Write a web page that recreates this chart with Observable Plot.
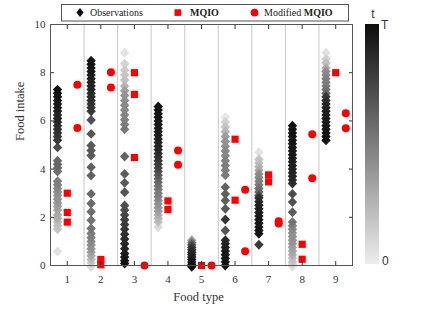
<!DOCTYPE html>
<html><head><meta charset="utf-8">
<script src="https://cdn.jsdelivr.net/npm/d3@7"></script>
<script src="https://cdn.jsdelivr.net/npm/@observablehq/plot@0.6"></script>
<style>
body{margin:0;background:#fff;}
#wrap{position:relative;width:443px;height:332px;overflow:hidden;background:#fff;}
#wrap svg{position:absolute;left:0;top:0;}
</style></head><body><div id="wrap"></div>
<script>
// ---- data ----
const foodTypes = [1, 2, 3, 4, 5, 6, 7, 8, 9];
const separators = [1.5, 2.5, 3.5, 4.5, 5.5, 6.5, 7.5, 8.5];
const yTicks = [0, 2, 4, 6, 8, 10];
const seriesNames = ["Observations", "MQIO", "Modified MQIO"];

// observations per food type: [food intake, t (0 = start, 1 = T)]
const obs1 = [[0.58,0.05],[1.5,0.18],[1.65,0.2],[1.8,0.22],[1.95,0.28],[2.1,0.3],[2.3,0.32],[2.45,0.35],[2.6,0.38],[2.75,0.4],[2.9,0.4],[3.05,0.42],[3.2,0.45],[3.35,0.48],[3.5,0.5],[3.9,0.55],[4.05,0.58],[4.2,0.6],[4.35,0.6],[4.9,0.72],[5.2,0.8],[5.35,0.78],[5.5,0.82],[5.65,0.85],[5.8,0.84],[5.95,0.88],[6.1,0.9],[6.25,0.88],[6.4,0.92],[6.55,0.93],[6.7,0.95],[6.85,0.96],[7.0,0.97],[7.15,0.97],[7.3,0.98]];
const obs2 = [[8.5,0.97],[8.35,0.96],[8.2,0.95],[8.05,0.95],[7.9,0.93],[7.75,0.92],[7.6,0.9],[7.45,0.9],[7.3,0.88],[7.15,0.85],[7.0,0.87],[6.85,0.85],[6.7,0.82],[6.55,0.83],[6.4,0.8],[6.04,0.7],[5.46,0.68],[4.98,0.66],[4.77,0.66],[4.56,0.65],[4.08,0.63],[3.73,0.62],[2.97,0.6],[2.57,0.58],[2.23,0.57],[1.88,0.55],[1.54,0.55],[1.33,0.5],[1.15,0.48],[1.0,0.45],[0.85,0.42],[0.7,0.4],[0.55,0.35],[0.4,0.3],[0.25,0.22],[0.1,0.15],[-0.05,0.08]];
const obs3 = [[8.83,0.04],[8.37,0.12],[8.1,0.15],[7.9,0.18],[7.7,0.2],[7.45,0.25],[7.25,0.35],[7.05,0.4],[6.85,0.42],[6.65,0.45],[6.45,0.45],[6.25,0.47],[6.05,0.48],[5.85,0.5],[5.65,0.52],[4.52,0.62],[3.8,0.65],[3.43,0.66],[3.04,0.68],[2.49,0.7],[2.3,0.72],[2.1,0.75],[1.9,0.78],[1.7,0.8],[1.5,0.82],[1.3,0.85],[1.1,0.87],[0.9,0.88],[0.7,0.9],[0.5,0.92],[0.35,0.94],[0.2,0.96],[0.08,0.98]];
const obs4 = [[1.6,0.08],[1.8,0.2],[1.95,0.25],[2.1,0.28],[2.25,0.35],[2.4,0.38],[2.55,0.4],[2.7,0.42],[2.85,0.48],[3.0,0.5],[3.15,0.52],[3.3,0.55],[3.45,0.58],[3.6,0.6],[3.75,0.65],[3.9,0.7],[4.05,0.75],[4.2,0.78],[4.35,0.8],[4.5,0.83],[4.65,0.85],[4.8,0.88],[4.95,0.9],[5.1,0.9],[5.25,0.92],[5.4,0.93],[5.55,0.93],[5.7,0.94],[5.85,0.95],[6.0,0.95],[6.15,0.96],[6.3,0.96],[6.45,0.97],[6.6,0.97]];
const obs5 = [[1.05,0.35],[0.95,0.55],[0.85,0.7],[0.75,0.8],[0.65,0.85],[0.55,0.88],[0.45,0.9],[0.35,0.92],[0.25,0.94],[0.15,0.95],[0.05,0.97],[-0.05,0.98]];
const obs6 = [[6.15,0.04],[5.95,0.12],[5.75,0.18],[5.55,0.25],[5.35,0.35],[5.15,0.4],[4.95,0.42],[4.75,0.45],[4.55,0.45],[4.35,0.48],[4.15,0.5],[3.95,0.5],[3.75,0.52],[3.25,0.62],[2.97,0.63],[2.7,0.64],[2.35,0.66],[1.91,0.82],[1.45,0.68],[1.05,0.88],[0.9,0.9],[0.75,0.92],[0.6,0.93],[0.45,0.95],[0.3,0.96],[0.15,0.97],[0.0,0.98]];
const obs7 = [[4.7,0.05],[4.4,0.18],[4.25,0.2],[4.1,0.25],[3.95,0.3],[3.8,0.42],[3.65,0.45],[3.5,0.48],[3.35,0.5],[3.2,0.55],[3.05,0.6],[2.9,0.7],[2.8,0.85],[2.65,0.88],[2.5,0.9],[2.35,0.92],[2.2,0.93],[2.05,0.94],[1.9,0.95],[1.75,0.95],[1.6,0.96],[1.45,0.97],[1.32,0.97],[0.86,0.8]];
const obs8 = [[-0.05,0.05],[0.05,0.1],[0.15,0.18],[0.3,0.22],[0.45,0.28],[0.6,0.32],[0.75,0.35],[0.9,0.38],[1.05,0.4],[1.2,0.42],[1.35,0.42],[1.5,0.45],[1.65,0.48],[1.8,0.55],[2.21,0.65],[2.63,0.7],[2.97,0.72],[3.4,0.85],[3.55,0.88],[3.7,0.9],[3.85,0.9],[4.0,0.92],[4.15,0.93],[4.3,0.93],[4.45,0.94],[4.6,0.95],[4.75,0.95],[4.9,0.96],[5.05,0.96],[5.2,0.97],[5.35,0.97],[5.5,0.98],[5.65,0.98],[5.8,0.98]];
const obs9 = [[8.83,0.05],[8.57,0.12],[8.4,0.2],[8.2,0.28],[8.05,0.42],[7.9,0.45],[7.75,0.48],[7.6,0.5],[7.45,0.52],[7.3,0.55],[7.15,0.6],[7.0,0.8],[6.85,0.85],[6.7,0.88],[6.55,0.9],[6.4,0.92],[6.25,0.93],[6.1,0.94],[5.95,0.95],[5.8,0.96],[5.65,0.96],[5.5,0.97],[5.35,0.97],[5.2,0.98]];

// MQIO predictions: [food type, intake]
const mqio = [[1,3.0],[1,2.2],[1,1.8],[2,0.25],[2,0.03],[3,8.0],[3,7.1],[3,4.48],[4,2.68],[4,2.32],[5,0.0],[6,5.24],[6,2.71],[7,3.76],[7,3.47],[8,0.88],[8,0.26],[9,8.0]];
// Modified MQIO predictions: [food type, intake]
const modified = [[1,7.5],[1,5.71],[2,8.02],[2,7.39],[3,0.0],[4,4.77],[4,4.18],[5,0.0],[6,3.14],[6,0.59],[7,1.84],[7,1.74],[8,5.45],[8,3.62],[9,6.32],[9,5.7]];

// ---- build tables ----
const obsGroups = [obs1, obs2, obs3, obs4, obs5, obs6, obs7, obs8, obs9];
const observations = d3.sort(
  obsGroups.flatMap((g, i) => g.map(([v, t]) => ({type: foodTypes[i], value: v, t}))),
  d => d.t
);
const mqioRows = mqio.map(([type, value]) => ({type, value}));
const modRows = modified.map(([type, value]) => ({type, value}));

const red = "#ff0000";
const serif = "'Liberation Serif', 'Times New Roman', serif";

const diamond = {
  draw(ctx, size) {
    const h = Math.sqrt(size) * 0.62, w = h * 0.95;
    ctx.moveTo(0, -h); ctx.lineTo(w, 0); ctx.lineTo(0, h); ctx.lineTo(-w, 0); ctx.closePath();
  }
};

const chart = Plot.plot({
  width: 443, height: 332,
  marginTop: 24, marginBottom: 67, marginLeft: 50, marginRight: 91,
  style: {fontFamily: serif, fontSize: "11px", color: "#333", background: "transparent"},
  x: {domain: [0.5, 9.5]},
  y: {domain: [0, 10]},
  color: {type: "linear", domain: [0, 1], range: ["#ededed", "#0d0d0d"], interpolate: "rgb"},
  marks: [
    Plot.ruleX(separators, {stroke: "#c8c8c8", strokeWidth: 1}),
    Plot.dot(observations, {x: d => d.type - 0.29, y: "value", fill: "t", symbol: diamond, r: 4.5, stroke: null}),
    Plot.dot(mqioRows, {x: "type", y: "value", fill: red, symbol: "square", r: 4.05, stroke: null}),
    Plot.dot(modRows, {x: d => d.type + 0.3, y: "value", fill: red, symbol: "circle", r: 4, stroke: null}),
    Plot.axisX(foodTypes, {anchor: "bottom", tickSize: -4, tickPadding: 14, label: null, tickFormat: d => d}),
    Plot.axisX(foodTypes, {anchor: "top", tickSize: -4, label: null, tickFormat: () => ""}),
    Plot.axisY(yTicks, {anchor: "left", tickSize: -4, tickPadding: 9, label: null, tickFormat: d => d}),
    Plot.axisY(yTicks, {anchor: "right", tickSize: -4, label: null, tickFormat: () => ""}),
    Plot.frame({stroke: "#555"}),
    Plot.text(["Food type"], {frameAnchor: "bottom", dy: 35, dx: -3, text: d => d, fontSize: 12.5, fill: "#333"}),
    Plot.text(["Food intake"], {frameAnchor: "left", dx: -31, dy: -4, rotate: -90, text: d => d, fontSize: 12.5, fill: "#333"})
  ]
});

const wrap = document.getElementById("wrap");
wrap.appendChild(chart);

// ---- overlay: legend + colorbar ----
const color = chart.scale("color");
const ns = "http://www.w3.org/2000/svg";
const ov = d3.create("svg").attr("width", 443).attr("height", 332).attr("xmlns", ns);

const grad = ov.append("defs").append("linearGradient")
  .attr("id", "cbar").attr("x1", 0).attr("y1", 1).attr("x2", 0).attr("y2", 0);
d3.range(0, 1.0001, 0.1).forEach(t => grad.append("stop").attr("offset", t).attr("stop-color", color.apply(t)));
ov.append("rect").attr("x", 365).attr("y", 24).attr("width", 14).attr("height", 240).attr("fill", "url(#cbar)");
const sans = "'Liberation Sans', Arial, sans-serif";
ov.append("text").attr("x", 373).attr("y", 18).attr("text-anchor", "middle").attr("font-family", sans).attr("font-size", 12).attr("fill", "#333").text("t");
ov.append("text").attr("x", 381).attr("y", 29).attr("font-family", sans).attr("font-size", 12).attr("fill", "#333").text("T");
ov.append("text").attr("x", 382).attr("y", 265).attr("font-family", sans).attr("font-size", 12).attr("fill", "#333").text("0");

// legend
const lg = ov.append("g").attr("font-family", serif).attr("font-size", 10).attr("fill", "#222");
lg.append("rect").attr("x", 61.5).attr("y", 4.5).attr("width", 287).attr("height", 16.5).attr("fill", "#fff").attr("stroke", "#555");
lg.append("path").attr("d", "M80,8 L83.6,12.5 L80,17 L76.4,12.5Z").attr("fill", "#0d0d0d");
lg.append("text").attr("x", 90).attr("y", 16).text(seriesNames[0]);
lg.append("rect").attr("x", 174.5).attr("y", 9.3).attr("width", 6.6).attr("height", 6.6).attr("fill", red);
lg.append("text").attr("x", 190).attr("y", 16).attr("font-weight", "bold").text(seriesNames[1]);
lg.append("circle").attr("cx", 254.5).attr("cy", 12.6).attr("r", 3.9).attr("fill", red);
const t3 = lg.append("text").attr("x", 264).attr("y", 16);
const parts = seriesNames[2].split(" ");
t3.append("tspan").text(parts[0] + " ");
t3.append("tspan").attr("font-weight", "bold").text(parts[1]);

wrap.appendChild(ov.node());
</script>
</body></html>
